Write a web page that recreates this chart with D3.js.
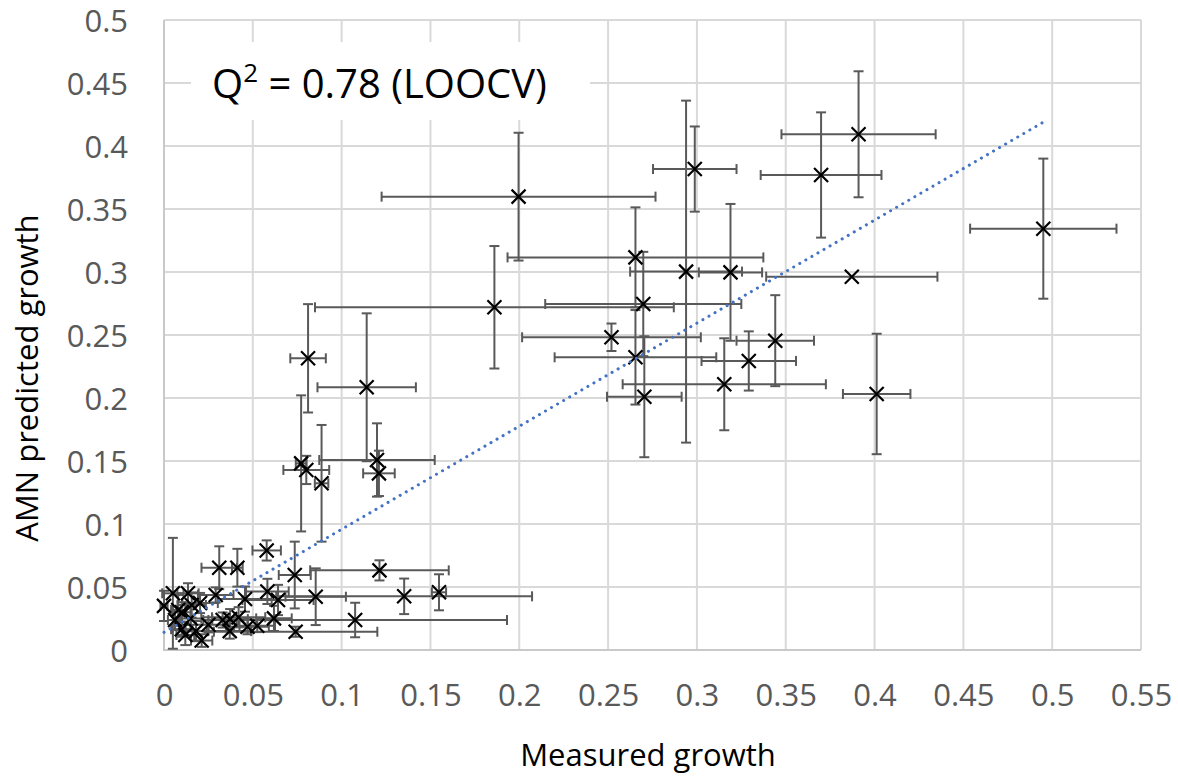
<!DOCTYPE html>
<html>
<head>
<meta charset="utf-8">
<script src="https://cdn.jsdelivr.net/npm/d3@7/dist/d3.min.js"></script>
<style>
  html, body { margin: 0; padding: 0; background: #fff; }
  svg { display: block; }
</style>
</head>
<body>
<svg id="chart" width="1178" height="778"></svg>
<script>
// ---- Data ----
const measured = [0.1996,0.2988,0.3699,0.3910,0.4950,0.2654,0.2939,0.3189,0.3872,0.2698,
  0.1860,0.2519,0.2654,0.2704,0.3154,0.3292,0.3441,0.4012,
  0.0811,0.1141,0.0772,0.0801,0.0887,0.1199,0.1210,
  0.0578,0.0311,0.0413,0.0736,0.1213,0.1352,0.1548,0.0854,0.1076,0.0741,
  0.0619,0.0642,0.0582,0.0456,0.0291,0.0470,0.0525,0.0372,0.0370,0.0330,
  0.0212,0.0120,0.0100,0.0000,0.0050,0.0135,0.0080,0.0062,0.0156,0.0203,
  0.0150,0.0180,0.0250,0.0100,0.0420];
const predicted = [0.3598,0.3817,0.3770,0.4093,0.3344,0.3116,0.3003,0.2997,0.2963,0.2746,
  0.2720,0.2482,0.2323,0.2010,0.2109,0.2294,0.2455,0.2032,
  0.2315,0.2085,0.1481,0.1429,0.1323,0.1508,0.1402,
  0.0790,0.0653,0.0653,0.0595,0.0632,0.0426,0.0458,0.0423,0.0238,0.0145,
  0.0251,0.0397,0.0465,0.0404,0.0437,0.0185,0.0192,0.0245,0.0150,0.0238,
  0.0075,0.0119,0.0165,0.0350,0.0450,0.0450,0.0317,0.0238,0.0357,0.0373,
  0.0250,0.0150,0.0200,0.0300,0.0260];
const measuredErr = [0.0771,0.0235,0.0340,0.0434,0.0412,0.0720,0.0315,0.0178,0.0482,0.0552,
  0.1010,0.0503,0.0455,0.0210,0.0572,0.0266,0.0218,0.0190,
  0.0100,0.0277,0.0030,0.0129,0.0038,0.0325,0.0089,
  0.0080,0.0100,0.0030,0.0090,0.0390,0.0720,0.0040,0.0170,0.0855,0.0460,
  0.0100,0.0200,0.0120,0.0150,0.0100,0.0120,0.0100,0.0100,0.0120,0.0080,
  0.0060,0.0050,0.0060,0.0020,0.0060,0.0060,0.0040,0.0040,0.0080,0.0100,
  0.0060,0.0060,0.0100,0.0050,0.0150];
const predictedErr = [0.0507,0.0338,0.0497,0.0500,0.0556,0.0397,0.1357,0.0543,0.0000,0.0414,
  0.0486,0.0109,0.0375,0.0480,0.0365,0.0235,0.0361,0.0478,
  0.0430,0.0587,0.0540,0.0112,0.0463,0.0291,0.0180,
  0.0080,0.0170,0.0150,0.0265,0.0080,0.0141,0.0143,0.0225,0.0137,0.0040,
  0.0100,0.0120,0.0100,0.0100,0.0060,0.0060,0.0050,0.0080,0.0060,0.0060,
  0.0050,0.0080,0.0060,0.0120,0.0440,0.0080,0.0120,0.0080,0.0100,0.0080,
  0.0100,0.0080,0.0060,0.0080,0.0080];
// Linear trendline
const trendIntercept = 0.014;
const trendSlope = 0.818;
const xTicks = [0,0.05,0.1,0.15,0.2,0.25,0.3,0.35,0.4,0.45,0.5,0.55];
const xTickLabels = ["0","0.05","0.1","0.15","0.2","0.25","0.3","0.35","0.4","0.45","0.5","0.55"];
const yTicks = [0,0.05,0.1,0.15,0.2,0.25,0.3,0.35,0.4,0.45,0.5];
const yTickLabels = ["0","0.05","0.1","0.15","0.2","0.25","0.3","0.35","0.4","0.45","0.5"];
const xTitle = "Measured growth";
const yTitle = "AMN predicted growth";

// ---- Chart ----
const FONT = "'Open Sans', 'Noto Sans', sans-serif";
const svg = d3.select("#chart");
svg.append("rect").attr("width",1178).attr("height",778).attr("fill","#fff");

const x = d3.scaleLinear().domain([0,0.55]).range([164,1141]);
const y = d3.scaleLinear().domain([0,0.5]).range([650,20]);

// gridlines
const grid = svg.append("g");
grid.selectAll("line.v").data(xTicks.slice(1)).join("line")
  .attr("x1",d=>x(d)).attr("x2",d=>x(d)).attr("y1",y(0)).attr("y2",y(0.5))
  .attr("stroke","#d9d9d9").attr("stroke-width",2);
grid.selectAll("line.h").data(yTicks.slice(1)).join("line")
  .attr("x1",x(0)).attr("x2",x(0.55)).attr("y1",d=>y(d)).attr("y2",d=>y(d))
  .attr("stroke","#d9d9d9").attr("stroke-width",2);
// axis lines
svg.append("line").attr("x1",x(0)).attr("x2",x(0)).attr("y1",y(0)+1).attr("y2",y(0.5))
  .attr("stroke","#c9c9c9").attr("stroke-width",2);
svg.append("line").attr("x1",x(0)).attr("x2",x(0.55)).attr("y1",y(0)).attr("y2",y(0))
  .attr("stroke","#c9c9c9").attr("stroke-width",2);

// axes labels through d3 axes
const xAxis = svg.append("g").attr("transform",`translate(0,${y(0)})`)
  .call(d3.axisBottom(x).tickValues(xTicks).tickSize(0).tickFormat((d,i)=>xTickLabels[i]));
xAxis.select(".domain").remove();
xAxis.selectAll("text").attr("y",56).attr("dy",0)
  .attr("font-family",FONT).attr("font-size",31).attr("fill","#595959");

const yAxis = svg.append("g").attr("transform",`translate(${x(0)},0)`)
  .call(d3.axisLeft(y).tickValues(yTicks).tickSize(0).tickFormat((d,i)=>yTickLabels[i]));
yAxis.select(".domain").remove();
yAxis.selectAll("text").attr("x",-36).attr("dy","0.36em")
  .attr("font-family",FONT).attr("font-size",31).attr("fill","#595959");

// axis titles
svg.append("text").attr("x",648).attr("y",766).attr("text-anchor","middle")
  .attr("font-family",FONT).attr("font-size",31).attr("fill","#000").text(xTitle);
svg.append("text").attr("transform","translate(38,378) rotate(-90)").attr("text-anchor","middle")
  .attr("font-family",FONT).attr("font-size",31).attr("fill","#000").text(yTitle);

// Q2 label with white box
svg.append("rect").attr("x",191).attr("y",42).attr("width",399).attr("height",78).attr("fill","#fff");
const q = svg.append("text").attr("x",212).attr("y",98)
  .attr("font-family",FONT).attr("font-size",40).attr("fill","#000");
q.append("tspan").text("Q");
q.append("tspan").attr("font-size",26).attr("dy",-16).text("2");
q.append("tspan").attr("dy",16).text(" = 0.78 (LOOCV)");

// data points
const pts = measured.map((m,i)=>({x:m, y:predicted[i], ex:measuredErr[i], ey:predictedErr[i]}));
const eb = svg.append("g").attr("stroke","#595959").attr("stroke-width",2).attr("fill","none");
const cap = 5;
pts.forEach(p=>{
  if (p.ex>0){
    eb.append("line").attr("x1",x(p.x-p.ex)).attr("x2",x(p.x+p.ex)).attr("y1",y(p.y)).attr("y2",y(p.y));
    eb.append("line").attr("x1",x(p.x-p.ex)).attr("x2",x(p.x-p.ex)).attr("y1",y(p.y)-cap).attr("y2",y(p.y)+cap);
    eb.append("line").attr("x1",x(p.x+p.ex)).attr("x2",x(p.x+p.ex)).attr("y1",y(p.y)-cap).attr("y2",y(p.y)+cap);
  }
  if (p.ey>0){
    eb.append("line").attr("x1",x(p.x)).attr("x2",x(p.x)).attr("y1",y(p.y-p.ey)).attr("y2",y(p.y+p.ey));
    eb.append("line").attr("x1",x(p.x)-cap).attr("x2",x(p.x)+cap).attr("y1",y(p.y-p.ey)).attr("y2",y(p.y-p.ey));
    eb.append("line").attr("x1",x(p.x)-cap).attr("x2",x(p.x)+cap).attr("y1",y(p.y+p.ey)).attr("y2",y(p.y+p.ey));
  }
});

// markers (x shape)
const ms = 7;
svg.append("g").selectAll("path").data(pts).join("path")
  .attr("d",p=>{const cx=x(p.x), cy=y(p.y);
    return `M${cx-ms},${cy-ms}L${cx+ms},${cy+ms}M${cx-ms},${cy+ms}L${cx+ms},${cy-ms}`;})
  .attr("stroke","#000").attr("stroke-width",2.2).attr("fill","none");

// trendline
const tx = d3.extent(measured);
const line = d3.line().x(d=>x(d)).y(d=>y(trendIntercept+trendSlope*d));
svg.append("path").attr("d",line(tx)).attr("fill","none")
  .attr("stroke","#4472C4").attr("stroke-width",3)
  .attr("stroke-linecap","round").attr("stroke-dasharray","0.1 6.9");
</script>
</body>
</html>
